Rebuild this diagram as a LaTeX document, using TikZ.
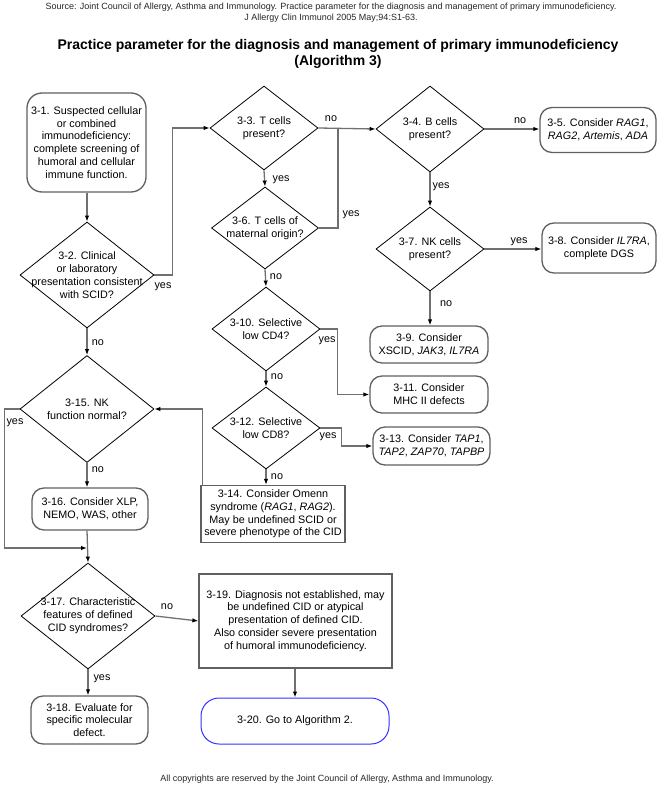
\documentclass[tikz,border=0pt]{standalone}
\usepackage{fontspec}
\setmainfont{Liberation Sans}
\usetikzlibrary{shapes.geometric,arrows.meta,calc}
\definecolor{linegray}{HTML}{707070}
\definecolor{boxgray}{HTML}{606060}
\definecolor{algblue}{HTML}{3333FF}
\begin{document}
\begin{tikzpicture}[x=1pt,y=-1pt,
  every node/.style={font=\fontsize{10.8}{12.8}\selectfont},
  txt/.style={align=center, inner sep=0pt},
  dia/.style={draw=black, line width=0.8pt, diamond, inner sep=0pt},
  rbox/.style={draw=boxgray, line width=1.3pt, rounded corners=12pt, inner sep=0pt, align=center},
  sbox/.style={draw=boxgray, line width=1.3pt, inner sep=0pt, align=center},
  conn/.style={draw=linegray, line width=1.3pt, -{Latex[length=6pt,width=4.5pt,color=black]}},
  plainline/.style={draw=linegray, line width=1.3pt},
  lbl/.style={inner sep=0pt},
]
\useasboundingbox (0,0) rectangle (660,786);

% header
\node[font=\fontsize{9}{11}\selectfont, text=black!85] (src1) at (331,7) {Source: Joint Council of Allergy, Asthma and Immunology. Practice parameter for the diagnosis and management of primary immunodeficiency.};
\node[font=\fontsize{9}{11}\selectfont, text=black!85] (src2) at (331,18) {J Allergy Clin Immunol 2005 May;94:S1-63.};
\node[font=\bfseries\fontsize{14}{16}\selectfont, align=center] (title) at (338,54) {Practice parameter for the diagnosis and management of primary immunodeficiency\\(Algorithm 3)};
\node[font=\fontsize{9}{11}\selectfont, text=black!85] (foot) at (327,779) {All copyrights are reserved by the Joint Council of Allergy, Asthma and Immunology.};

% left column
\node[rbox, rounded corners=15pt, minimum width=119, minimum height=99] (b1) at (86.5,142.5) {3-1. Suspected cellular\\or combined\\immunodeficiency:\\complete screening of\\humoral and cellular\\immune function.};
\node[dia, minimum width=134, minimum height=106] (d2) at (87,275) {};
\node[txt] (d2t) at (d2) {3-2. Clinical\\or laboratory\\presentation consistent\\with SCID?};
\node[dia, minimum width=134, minimum height=107] (d15) at (87,409) {};
\node[txt] (d15t) at (d15) {3-15. NK\\function normal?};
\node[rbox, minimum width=116, minimum height=42] (b16) at (90,509) {3-16. Consider XLP,\\NEMO, WAS, other};
\node[dia, minimum width=134, minimum height=106] (d17) at (88,616) {};
\node[txt] (d17t) at (d17) {3-17. Characteristic\\features of defined\\CID syndromes?};
\node[rbox, minimum width=117, minimum height=48] (b18) at (89.5,720) {3-18. Evaluate for\\specific molecular\\defect.};

% middle column
\node[dia, minimum width=108, minimum height=84] (d3) at (264,128) {};
\node[txt] (d3t) at (d3) {3-3. T cells\\present?};
\node[dia, minimum width=107, minimum height=82] (d6) at (265,228) {};
\node[txt] (d6t) at (d6) {3-6. T cells of\\maternal origin?};
\node[dia, minimum width=108, minimum height=84] (d10) at (266,329) {};
\node[txt] (d10t) at (d10) {3-10. Selective\\low CD4?};
\node[dia, minimum width=108, minimum height=82] (d12) at (266,428) {};
\node[txt] (d12t) at (d12) {3-12. Selective\\low CD8?};
\node[sbox, minimum width=144, minimum height=57] (b14) at (273,514) {3-14. Consider Omenn\\syndrome (\textit{RAG1}, \textit{RAG2}).\\May be undefined SCID or\\severe phenotype of the CID};
\node[sbox, minimum width=193, minimum height=94] (b19) at (295.5,621) {3-19. Diagnosis not established, may\\be undefined CID or atypical\\presentation of defined CID.\\Also consider severe presentation\\of humoral immunodeficiency.};
\node[draw=algblue, line width=1pt, rounded corners=18pt, inner sep=0pt, minimum width=188, minimum height=46] (b20) at (295,721) {3-20. Go to Algorithm 2.};

% right column
\node[dia, minimum width=108, minimum height=86] (d4) at (430,129) {};
\node[txt] (d4t) at (d4) {3-4. B cells\\present?};
\node[rbox, minimum width=116, minimum height=45] (b5) at (598,130) {3-5. Consider \textit{RAG1},\\\textit{RAG2}, \textit{Artemis}, \textit{ADA}};
\node[dia, minimum width=108, minimum height=84] (d7) at (430,249) {};
\node[txt] (d7t) at (d7) {3-7. NK cells\\present?};
\node[rbox, minimum width=114, minimum height=50] (b8) at (599,248) {3-8. Consider \textit{IL7RA},\\complete DGS};
\node[rbox, minimum width=118, minimum height=37] (b9) at (429,344.5) {3-9. Consider\\XSCID, \textit{JAK3}, \textit{IL7RA}};
\node[rbox, minimum width=118, minimum height=37] (b11) at (429,394.5) {3-11. Consider\\MHC II defects};
\node[rbox, minimum width=117, minimum height=38] (b13) at (431.5,446) {3-13. Consider \textit{TAP1},\\\textit{TAP2}, \textit{ZAP70}, \textit{TAPBP}};

% helper coordinates
\coordinate (j1) at (338,128);
\coordinate (m1) at (87,548);

% connectors
\draw[conn] (b1.south -| d2.north) -- (d2.north);
\draw[conn] (d2.east) -- ++(18,0) |- (d3.west);
\draw[conn] (d2.south) -- (d15.north);
\draw[conn] (d3.east) -- (d4.west);
\draw[plainline] (d6.east) -| (j1);
\draw[conn] (d3.south) -- (d6.north);
\draw[conn] (d6.south) -- (d10.north);
\draw[conn] (d10.east) -- ++(17,0) |- (b11.west);
\draw[conn] (d10.south) -- (d12.north);
\draw[conn] (d12.east) -- ++(21,0) |- (b13.west);
\draw[conn] (d12.south) -- (d12.south |- b14.north);
\draw[conn] ($(b14.north west)+(2,0)$) |- (d15.east);
\draw[conn] (d15.west) -- ++(-15,0) |- (m1);
\draw[conn] (d15.south) -- (d15.south |- b16.north);
\draw[conn] (d15.south |- b16.south) -- (d17.north);
\draw[conn] (d17.east) -- (b19.west);
\draw[conn] (d17.south) -- (d17.south |- b18.north);
\draw[conn] (b20.north |- b19.south) -- (b20.north);
\draw[conn] (d4.east) -- (d4.east -| b5.west);
\draw[conn] (d4.south) -- (d7.north);
\draw[conn] (d7.east) -- (d7.east -| b8.west);
\draw[conn] (d7.south) -- (b9.north -| d7.south);

% labels
\node[lbl] (l1) at (163,287) {yes};
\node[lbl] (l2) at (98,343) {no};
\node[lbl] (l3) at (331,119) {no};
\node[lbl] (l4) at (351,215) {yes};
\node[lbl] (l5) at (281,180) {yes};
\node[lbl] (l6) at (276,277) {no};
\node[lbl] (l7) at (327,341) {yes};
\node[lbl] (l8) at (277,377) {no};
\node[lbl] (l9) at (328,437) {yes};
\node[lbl] (l10) at (277,477) {no};
\node[lbl] (l11) at (15,423) {yes};
\node[lbl] (l12) at (98,470) {no};
\node[lbl] (l13) at (167,607) {no};
\node[lbl] (l14) at (102,679) {yes};
\node[lbl] (l15) at (520,121) {no};
\node[lbl] (l16) at (441,187) {yes};
\node[lbl] (l17) at (519,242) {yes};
\node[lbl] (l18) at (446,304) {no};
\end{tikzpicture}
\end{document}
